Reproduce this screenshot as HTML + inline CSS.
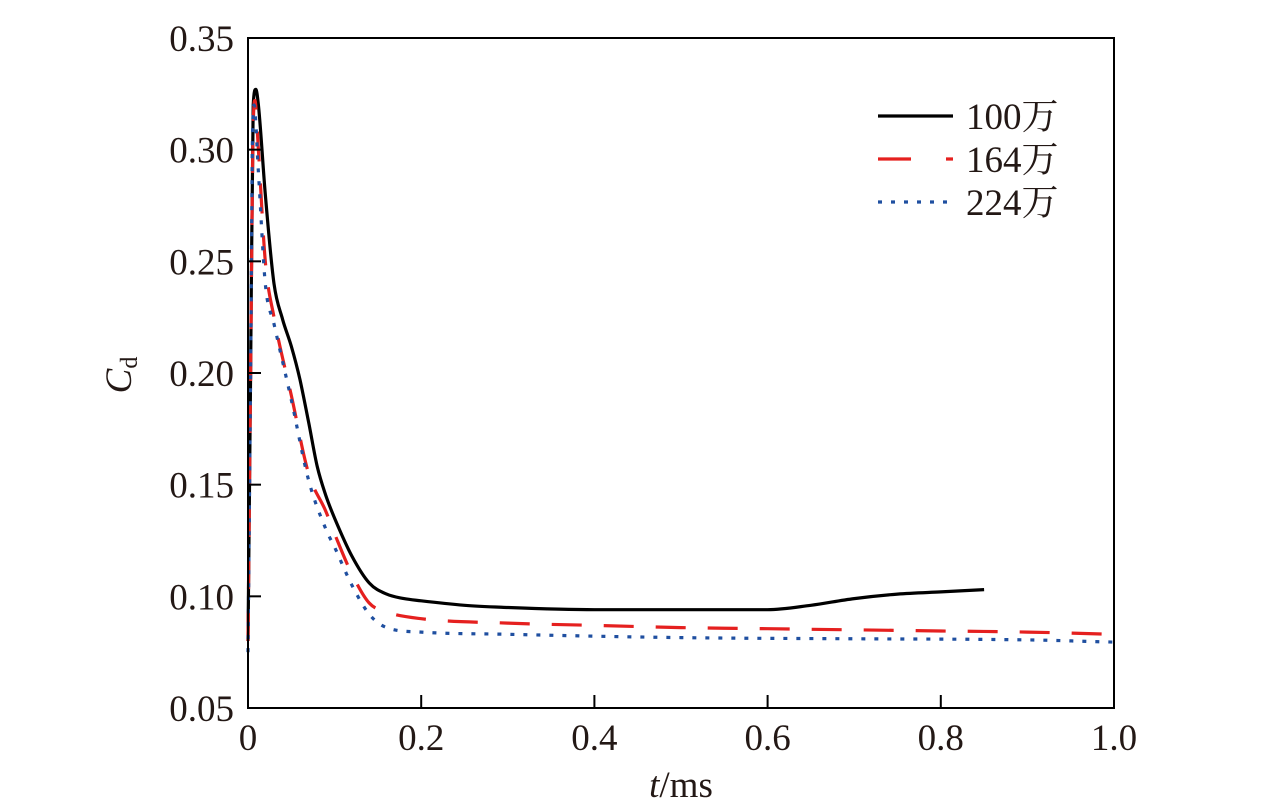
<!DOCTYPE html>
<html><head><meta charset="utf-8"><style>
body{margin:0;background:#fff}
svg text{font-family:"Liberation Serif","Noto Serif CJK SC",serif;fill:#231815}
</style></head><body>
<svg width="1276" height="802" viewBox="0 0 1276 802" id="chart">
<g id="marks"></g>
</svg>
<script>
const xTicks=[0,0.2,0.4,0.6,0.8,1.0];
const xTickLabels=["0","0.2","0.4","0.6","0.8","1.0"];
const yTicks=[0.05,0.10,0.15,0.20,0.25,0.30,0.35];
const yTickLabels=["0.05","0.10","0.15","0.20","0.25","0.30","0.35"];
const seriesNames=["100万","164万","224万"];
const t100=[0,0.003,0.006,0.009,0.012,0.02,0.03,0.04,0.05,0.06,0.07,0.08,0.09,0.10,0.12,0.14,0.16,0.18,0.2,0.25,0.3,0.4,0.5,0.6,0.65,0.7,0.75,0.8,0.85];
const cd100=[0.08,0.2,0.32,0.327,0.32,0.28,0.24,0.224,0.212,0.197,0.178,0.158,0.145,0.135,0.118,0.106,0.101,0.099,0.098,0.096,0.095,0.094,0.094,0.094,0.096,0.099,0.101,0.102,0.103];
const t164=[0,0.003,0.006,0.008,0.012,0.02,0.03,0.05,0.07,0.09,0.1,0.12,0.14,0.16,0.2,0.3,0.4,0.5,0.6,0.7,0.8,0.9,1.0];
const cd164=[0.08,0.2,0.31,0.322,0.3,0.25,0.225,0.19,0.155,0.138,0.128,0.11,0.097,0.093,0.09,0.088,0.087,0.086,0.0855,0.085,0.0845,0.084,0.083];
const t224=[0,0.003,0.005,0.007,0.012,0.02,0.03,0.05,0.07,0.09,0.1,0.12,0.14,0.16,0.2,0.3,0.5,0.7,0.9,1.0];
const cd224=[0.075,0.2,0.3,0.32,0.29,0.24,0.222,0.188,0.152,0.13,0.122,0.105,0.092,0.086,0.084,0.083,0.0815,0.081,0.0805,0.0795];

const X0=248,X1=1114,Y0=708,Y1=38;
const xs=t=>X0+t*(X1-X0);
const ys=v=>Y0-(v-0.05)/0.3*(Y0-Y1);
const NS="http://www.w3.org/2000/svg";
const svg=document.getElementById('chart');
function mk(tag,attrs,parent){const e=document.createElementNS(NS,tag);for(const k in attrs)e.setAttribute(k,attrs[k]);(parent||svg).appendChild(e);return e;}

function monotonePath(px,py){
  const n=px.length,d=[],m=[];
  for(let i=0;i<n-1;i++)d.push((py[i+1]-py[i])/(px[i+1]-px[i]||1e-6));
  m[0]=d[0];m[n-1]=d[n-2];
  for(let i=1;i<n-1;i++){m[i]=(d[i-1]*d[i]<=0)?0:(d[i-1]+d[i])/2;}
  for(let i=0;i<n-1;i++){if(d[i]===0){m[i]=0;m[i+1]=0;continue;}const a=m[i]/d[i],b=m[i+1]/d[i],s=a*a+b*b;if(s>9){const t=3/Math.sqrt(s);m[i]=t*a*d[i];m[i+1]=t*b*d[i];}}
  let s='M'+px[0].toFixed(1)+','+py[0].toFixed(1);
  for(let i=0;i<n-1;i++){const h=(px[i+1]-px[i])/3;s+=' C'+(px[i]+h).toFixed(1)+','+(py[i]+m[i]*h).toFixed(1)+' '+(px[i+1]-h).toFixed(1)+','+(py[i+1]-m[i+1]*h).toFixed(1)+' '+px[i+1].toFixed(1)+','+py[i+1].toFixed(1);}
  return s;
}

const frame=mk('rect',{x:X0,y:Y1,width:X1-X0,height:Y0-Y1,fill:'none',stroke:'#000','stroke-width':2});



yTicks.forEach((v,i)=>{
  const tk=mk('line',{x1:X0,x2:X0+13,y1:ys(v),y2:ys(v),stroke:'#000','stroke-width':2});
  
  
  const lb=mk('text',{x:234,y:ys(v)+13,'text-anchor':'end','font-size':37});
  lb.textContent=yTickLabels[i];
  
  
});
xTicks.forEach((v,i)=>{
  const tk=mk('line',{x1:xs(v),x2:xs(v),y1:Y0,y2:Y0-13,stroke:'#000','stroke-width':2});
  
  
  const lb=mk('text',{x:xs(v),y:750,'text-anchor':'middle','font-size':37});
  lb.textContent=xTickLabels[i];
  
  
});

const xt=mk('text',{x:681,y:797,'text-anchor':'middle','font-size':37});
xt.innerHTML='<tspan font-style="italic">t</tspan>/ms';


const yt=mk('text',{transform:'translate(131,375) rotate(-90)','text-anchor':'middle','font-size':37});
yt.innerHTML='<tspan font-style="italic">C</tspan><tspan font-size="24" dy="6">d</tspan>';



const styles=[{stroke:'#000',dash:''},{stroke:'#e5201f',dash:'30 22'},{stroke:'#1f4fa0',dash:'4 9'}];
const data=[[t100,cd100],[t164,cd164],[t224,cd224]];
const g=document.getElementById('marks');
data.forEach((d,i)=>{
  const path=monotonePath(d[0].map(xs),d[1].map(ys));
  const p=mk('path',{d:path,fill:'none',stroke:styles[i].stroke,'stroke-width':3.2,'stroke-dasharray':styles[i].dash,'stroke-linejoin':'round'},g);
  
  
});

const legY=[116,159,202];
seriesNames.forEach((n,i)=>{
  const l=mk('line',{x1:878,x2:953,y1:legY[i],y2:legY[i],stroke:styles[i].stroke,'stroke-width':3.2,'stroke-dasharray':i==1?'33 35':(i==2?'4 9':'')});
  
  
  const t=mk('text',{x:966,y:legY[i]+13,'font-size':37});
  t.textContent=n;
  
  
});
</script>
</body></html>
